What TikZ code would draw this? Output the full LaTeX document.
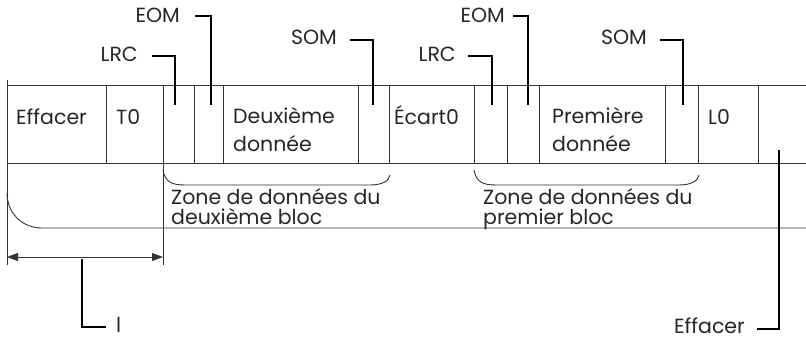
\documentclass[tikz,border=0pt]{standalone}
\usepackage{fontspec}
\setmainfont{Poppins}
\usetikzlibrary{arrows.meta}
\begin{document}
\begin{tikzpicture}[x=1pt,y=-1pt,
  frame/.style={line width=0.9pt, draw=black!80},
  leader/.style={line width=1.8pt, draw=black},
  lbl/.style={font=\fontsize{20.5}{24}\selectfont, inner sep=0pt, text=black!85},
  dimtip/.style={{Triangle[length=11pt,width=8pt]}-{Triangle[length=11pt,width=8pt]}},
]
\useasboundingbox (0,0) rectangle (806,339);

% frame
\draw[frame] (7,80) -- (7,265);
\draw[frame] (7,85) -- (806,85);
\draw[frame] (7,163) -- (806,163);
\draw[frame] (7,193) .. controls (7,213) and (22,228) .. (42,228) -- (806,228);
\foreach \x in {106,194,223,358,389,474,507,539,665,698,758}
  \draw[frame] (\x,85) -- (\x,163);
\draw[frame] (163,85) -- (163,265);

% dimension arrow
\coordinate (dimL) at (7,257);
\coordinate (dimR) at (163,257);
\draw[frame, dimtip] (dimL) -- (dimR);

% braces
\draw[frame] (163,170) .. controls (165,182) and (172,185) .. (185,185) -- (370,185) .. controls (382,185) and (389,181) .. (390,175);
\draw[frame] (474,170) .. controls (476,182) and (483,185) .. (496,185) -- (679,185) .. controls (691,185) and (698,181) .. (699,175);

% cell texts
\node[lbl, anchor=base west] (cEff) at (16,125) {Effacer};
\node[lbl, anchor=base west] (cT0) at (116,125) {T0};
\node[lbl, anchor=base west] (cDeux) at (233,124) {Deuxième};
\node[lbl, anchor=base west] (cDon2) at (233,152) {donnée};
\node[lbl, anchor=base west] (cEcart) at (394,125) {Écart0};
\node[lbl, anchor=base west] (cPrem) at (552,124) {Première};
\node[lbl, anchor=base west] (cDon1) at (552,152) {donnée};
\node[lbl, anchor=base west] (cL0) at (708,125) {L0};

% zone texts
\node[lbl, anchor=base west] (z2a) at (171,205) {Zone de données du};
\node[lbl, anchor=base west] (z2b) at (171,225) {deuxième bloc};
\node[lbl, anchor=base west] (z1a) at (483,205) {Zone de données du};
\node[lbl, anchor=base west] (z1b) at (483,225) {premier bloc};

% top labels
\node[lbl, anchor=base east] (lrcA) at (138,62) {LRC};
\node[lbl, anchor=base east] (eomA) at (180,23) {EOM};
\node[lbl, anchor=base east] (somA) at (337,45) {SOM};
\node[lbl, anchor=base east] (lrcB) at (456,62) {LRC};
\node[lbl, anchor=base east] (eomB) at (505,23) {EOM};
\node[lbl, anchor=base east] (somB) at (647,45) {SOM};
\node[lbl, anchor=base east] (effB) at (745,333) {Effacer};
\node[lbl, anchor=base west] (lenL) at (116,332) {l};

% leader coordinates
\coordinate (lrcAs) at (152,56);  \coordinate (lrcAe) at (175,105);
\coordinate (eomAs) at (195,16);  \coordinate (eomAe) at (211,105);
\coordinate (somAs) at (350,40);  \coordinate (somAe) at (373,105);
\coordinate (lrcBs) at (468,56);  \coordinate (lrcBe) at (492,105);
\coordinate (eomBs) at (513,16);  \coordinate (eomBe) at (528,105);
\coordinate (somBs) at (660,40);  \coordinate (somBe) at (683,105);
\coordinate (effBs) at (757,329); \coordinate (effBe) at (779,150);
\coordinate (lenLs) at (106,327); \coordinate (lenLe) at (82,259);

\draw[leader] (lrcAs) -| (lrcAe);
\draw[leader] (eomAs) -| (eomAe);
\draw[leader] (somAs) -| (somAe);
\draw[leader] (lrcBs) -| (lrcBe);
\draw[leader] (eomBs) -| (eomBe);
\draw[leader] (somBs) -| (somBe);
\draw[leader] (effBs) -| (effBe);
\draw[leader] (lenLs) -| (lenLe);
\end{tikzpicture}
\end{document}
